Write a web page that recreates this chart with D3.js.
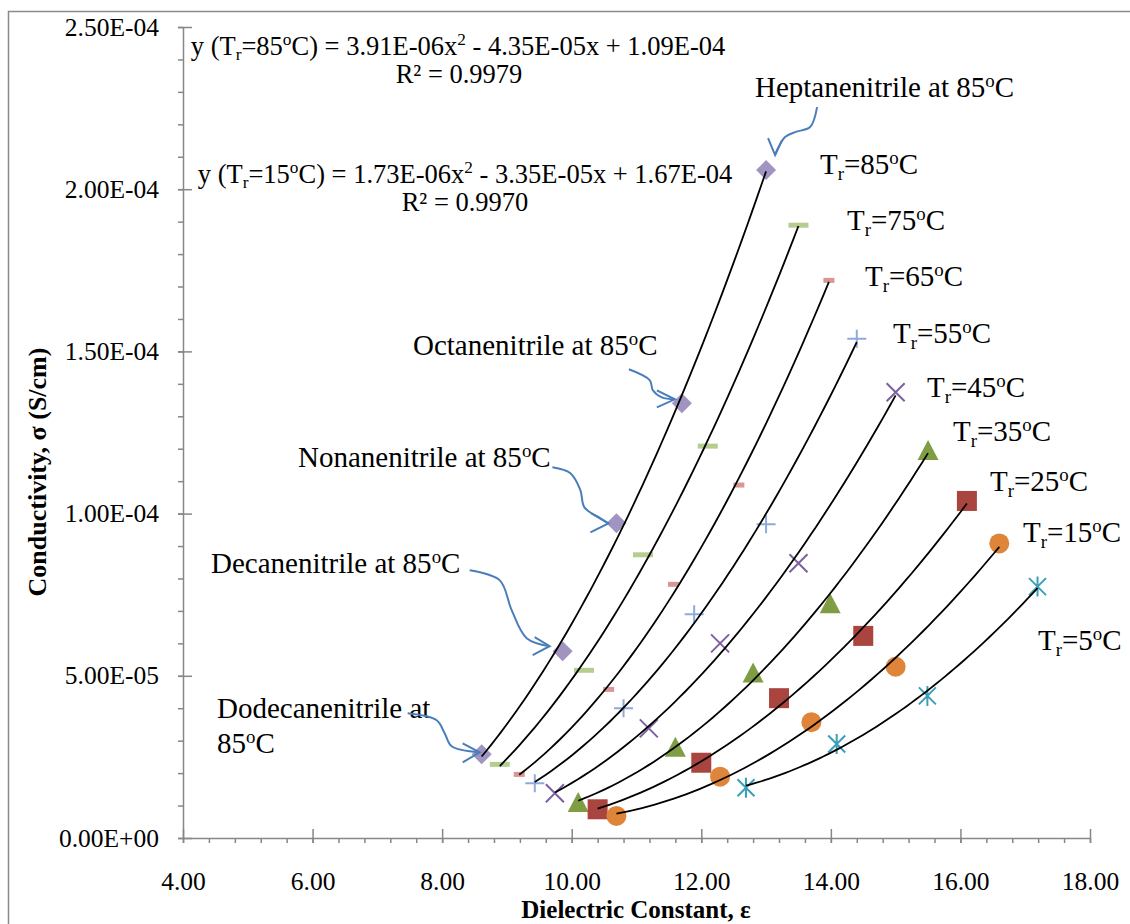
<!DOCTYPE html>
<html>
<head>
<meta charset="utf-8">
<script src="https://cdn.jsdelivr.net/npm/d3@7"></script>
<style>
body { margin: 0; background: #fff; }
svg text { font-family: "Liberation Serif", "Times New Roman", serif; fill: #000; }
</style>
</head>
<body>
<div id="chart"></div>
<script>
// dielectric constant (eps) and conductivity (sig, S/cm) for each reduced temperature
var eps85 = [8.61, 9.86, 10.69, 11.70, 13.00];
var sig85 = [2.58e-5, 5.76e-5, 9.70e-5, 13.40e-5, 20.59e-5];
var eps75 = [8.89, 10.19, 11.10, 12.10, 13.50];
var sig75 = [2.27e-5, 5.17e-5, 8.73e-5, 12.08e-5, 18.89e-5];
var eps65 = [9.19, 10.57, 11.57, 12.58, 13.97];
var sig65 = [1.96e-5, 4.58e-5, 7.82e-5, 10.88e-5, 17.19e-5];
var eps55 = [9.43, 10.80, 11.89, 13.00, 14.40];
var sig55 = [1.69e-5, 4.00e-5, 6.90e-5, 9.67e-5, 15.39e-5];
var eps45 = [9.74, 11.19, 12.29, 13.50, 15.00];
var sig45 = [1.38e-5, 3.38e-5, 6.00e-5, 8.47e-5, 13.74e-5];
var eps35 = [10.10, 11.60, 12.80, 13.99, 15.50];
var sig35 = [1.11e-5, 2.81e-5, 5.10e-5, 7.24e-5, 11.96e-5];
var eps25 = [10.40, 12.00, 13.20, 14.50, 16.10];
var sig25 = [0.885e-5, 2.32e-5, 4.31e-5, 6.23e-5, 10.39e-5];
var eps15 = [10.69, 12.29, 13.70, 15.00, 16.60];
var sig15 = [0.68e-5, 1.89e-5, 3.57e-5, 5.28e-5, 9.08e-5];
var eps5 = [12.69, 14.09, 15.49, 17.19];
var sig5 = [1.55e-5, 2.90e-5, 4.38e-5, 7.75e-5];

var temps = ["85", "75", "65", "55", "45", "35", "25", "15", "5"];

var xTicks = [4, 6, 8, 10, 12, 14, 16, 18];
var xTickLabels = ["4.00", "6.00", "8.00", "10.00", "12.00", "14.00", "16.00", "18.00"];
var yTicks = [0, 5e-5, 1e-4, 1.5e-4, 2e-4, 2.5e-4];
var yTickLabels = ["0.00E+00", "5.00E-05", "1.00E-04", "1.50E-04", "2.00E-04", "2.50E-04"];

var series = [
    {temp: "85", eps: eps85, sig: sig85},
    {temp: "75", eps: eps75, sig: sig75},
    {temp: "65", eps: eps65, sig: sig65},
    {temp: "55", eps: eps55, sig: sig55},
    {temp: "45", eps: eps45, sig: sig45},
    {temp: "35", eps: eps35, sig: sig35},
    {temp: "25", eps: eps25, sig: sig25},
    {temp: "15", eps: eps15, sig: sig15},
    {temp: "5", eps: eps5, sig: sig5}
];

// marker look for each series
var markers = {
    "85": {shape: "diamond", color: "#a194c0"},
    "75": {shape: "dashLong", color: "#b5cd8e"},
    "65": {shape: "dashShort", color: "#d99694"},
    "55": {shape: "plus", color: "#8eaadb"},
    "45": {shape: "cross", color: "#7d60a0"},
    "35": {shape: "triangle", color: "#7f9e44"},
    "25": {shape: "square", color: "#a9443f"},
    "15": {shape: "circle", color: "#de853a"},
    "5": {shape: "star", color: "#3c9fb8"}
};

// label positions for the temperature tags (left, baseline)
var tagPos = {
    "85": [820, 174], "75": [847, 230], "65": [865, 286], "55": [893, 343],
    "45": [927, 397], "35": [953, 441], "25": [990, 491], "15": [1023, 542], "5": [1038, 650]
};

var margin = {top: 27, right: 40, bottom: 86, left: 183},
    width = 1130 - margin.left - margin.right,
    height = 924 - margin.top - margin.bottom;

var svg = d3.select("#chart")
    .append("svg")
    .attr("width", 1130)
    .attr("height", 924);

// outer chart frame
svg.append("rect")
    .attr("x", 8.5).attr("y", 11.5)
    .attr("width", 1200).attr("height", 1000)
    .attr("fill", "none")
    .attr("stroke", "#8a8a8a")
    .attr("stroke-width", 1.5);

var g = svg.append("g")
    .attr("transform", "translate(" + margin.left + "," + margin.top + ")");

var x = d3.scaleLinear().domain([4, 18]).range([0, width]);
var y = d3.scaleLinear().domain([0, 2.5e-4]).range([height, 0]);

var axisColor = "#878787";

// minor ticks first
g.append("g")
    .attr("transform", "translate(0," + height + ")")
    .call(d3.axisBottom(x).tickValues(d3.range(4, 18.01, 0.4)).tickSize(5).tickFormat(""))
    .call(function(a) { a.select(".domain").remove(); });
g.append("g")
    .call(d3.axisLeft(y).tickValues(d3.range(0, 2.5e-4 + 1e-9, 1e-5)).tickSize(5).tickFormat(""))
    .call(function(a) { a.select(".domain").remove(); });

var xAxis = g.append("g")
    .attr("transform", "translate(0," + height + ")")
    .call(d3.axisBottom(x).tickValues(xTicks)
        .tickFormat(function(d, i) { return xTickLabels[i]; })
        .tickSize(5).tickSizeOuter(0).tickPadding(29));
xAxis.selectAll(".tick line").attr("y1", -9);

var yAxis = g.append("g")
    .call(d3.axisLeft(y).tickValues(yTicks)
        .tickFormat(function(d, i) { return yTickLabels[i]; })
        .tickSize(5).tickSizeOuter(0).tickPadding(19));
yAxis.selectAll(".tick line").attr("x1", 9);

g.selectAll(".tick line").attr("stroke", axisColor).attr("stroke-width", 1.5);
g.selectAll(".domain").attr("stroke", axisColor).attr("stroke-width", 1.5);
g.selectAll(".tick text")
    .attr("font-family", "Liberation Serif, Times New Roman, serif")
    .attr("font-size", 25.5)
    .attr("fill", "#000");

// axis titles
svg.append("text")
    .attr("x", 636).attr("y", 918)
    .attr("text-anchor", "middle")
    .attr("font-weight", "bold")
    .attr("font-size", 25)
    .text("Dielectric Constant, ε");
svg.append("text")
    .attr("transform", "translate(46,472) rotate(-90)")
    .attr("text-anchor", "middle")
    .attr("font-weight", "bold")
    .attr("font-size", 26)
    .text("Conductivity, σ (S/cm)");

// text with _{sub} and ^{sup} parts
function richText(parent, str, px, py, size, anchor) {
    var t = parent.append("text")
        .attr("x", px).attr("y", py)
        .attr("font-size", size)
        .attr("text-anchor", anchor || "start");
    var shift = 0;
    str.split(/(_\{[^}]*\}|\^\{[^}]*\})/).forEach(function(part) {
        if (!part) return;
        var target = 0, fs = size, txt = part;
        if (part[0] === "_") { target = size * 0.2; fs = size * 0.65; txt = part.slice(2, -1); }
        if (part[0] === "^") { target = -size * 0.36; fs = size * 0.65; txt = part.slice(2, -1); }
        t.append("tspan")
            .attr("dy", target - shift)
            .attr("font-size", fs)
            .text(txt);
        shift = target;
    });
    return t;
}

// least squares quadratic, like the spreadsheet trendline
function quadFit(xs, ys) {
    var n = xs.length, s1 = 0, s2 = 0, s3 = 0, s4 = 0, t0 = 0, t1 = 0, t2 = 0;
    xs.forEach(function(v, i) {
        s1 += v; s2 += v * v; s3 += v * v * v; s4 += v * v * v * v;
        t0 += ys[i]; t1 += v * ys[i]; t2 += v * v * ys[i];
    });
    var m = [[s4, s3, s2], [s3, s2, s1], [s2, s1, n]], r = [t2, t1, t0];
    function det(a) {
        return a[0][0] * (a[1][1] * a[2][2] - a[1][2] * a[2][1])
             - a[0][1] * (a[1][0] * a[2][2] - a[1][2] * a[2][0])
             + a[0][2] * (a[1][0] * a[2][1] - a[1][1] * a[2][0]);
    }
    var D = det(m);
    return [0, 1, 2].map(function(c) {
        var mc = m.map(function(row, i) { return row.map(function(v, j) { return j === c ? r[i] : v; }); });
        return det(mc) / D;
    });
}

function markerPath(shape) {
    switch (shape) {
        case "diamond": return "M0,-10L10,0L0,10L-10,0Z";
        case "dashLong": return "M-10,-2.5H10V2.5H-10Z";
        case "dashShort": return "M-5.5,-2.5H5.5V2.5H-5.5Z";
        case "plus": return "M-9.5,0H9.5M0,-9V9";
        case "cross": return "M-9,-9L9,9M-9,9L9,-9";
        case "triangle": return "M0,-10L10.5,10H-10.5Z";
        case "square": return "M-10,-10H10V10H-10Z";
        case "circle": return "M-10,0A10,10 0 1,0 10,0A10,10 0 1,0 -10,0Z";
        case "star": return "M-8.5,-8.5L8.5,8.5M-8.5,8.5L8.5,-8.5M0,-10V10";
    }
}
var stroked = {plus: true, cross: true, star: true};

// markers
series.forEach(function(s) {
    var mk = markers[s.temp];
    var pts = s.eps.map(function(e, i) { return {e: e, s: s.sig[i]}; });
    g.append("g").selectAll("path")
        .data(pts)
        .enter()
        .append("path")
        .attr("transform", function(d) { return "translate(" + x(d.e) + "," + y(d.s) + ")"; })
        .attr("d", markerPath(mk.shape))
        .attr("fill", stroked[mk.shape] ? "none" : mk.color)
        .attr("stroke", stroked[mk.shape] ? mk.color : "none")
        .attr("stroke-width", 2);
});

// trendlines on top
var line = d3.line()
    .x(function(d) { return x(d[0]); })
    .y(function(d) { return y(d[1]); });
series.forEach(function(s) {
    var c = quadFit(s.eps, s.sig);
    var lo = d3.min(s.eps), hi = d3.max(s.eps);
    var curve = d3.range(0, 61).map(function(k) {
        var v = lo + (hi - lo) * k / 60;
        return [v, c[0] * v * v + c[1] * v + c[2]];
    });
    g.append("path")
        .attr("d", line(curve))
        .attr("fill", "none")
        .attr("stroke", "#000")
        .attr("stroke-width", 1.8);
});

// temperature tags
temps.forEach(function(t) {
    richText(svg, "T_{r}=" + t + "^{o}C", tagPos[t][0], tagPos[t][1], 29);
});

// trendline equations
richText(svg, "y (T_{r}=85^{o}C) = 3.91E-06x^{2} - 4.35E-05x + 1.09E-04", 458, 55, 26.5, "middle");
richText(svg, "R² = 0.9979", 459, 83, 26.5, "middle");
richText(svg, "y (T_{r}=15^{o}C) = 1.73E-06x^{2} - 3.35E-05x + 1.67E-04", 465, 183, 26.5, "middle");
richText(svg, "R² = 0.9970", 465, 211, 26.5, "middle");

// nitrile call-outs, arrows drawn relative to the 85 C points
var notes = [
    {i: 0, lines: [[217, 718, "Dodecanenitrile at"], [217, 753, "85^{o}C"]],
     arrow: [[-74, -41], [-45, -34], [-37, -21], [-30, -8], [-2, -2]], wings: [[-19, -11], [-19, 8]]},
    {i: 1, lines: [[211, 573, "Decanenitrile at 85^{o}C"]],
     arrow: [[-93, -81], [-63, -71], [-51, -41], [-36, -13], [-13, -5]], wings: [[-28, -14], [-30, 4]]},
    {i: 2, lines: [[298, 467, "Nonanenitrile at 85^{o}C"]],
     arrow: [[-64, -56], [-46, -50], [-36, -33], [-32, -16], [-16, -5], [-8, 0]], wings: [[-25, -10], [-26, 9]]},
    {i: 3, lines: [[413, 355, "Octanenitrile at 85^{o}C"]],
     arrow: [[-53, -34], [-32, -23], [-29, -13], [-20, -6], [-7, -4]], wings: [[-25, -13], [-25, 4]]},
    {i: 4, lines: [[755, 97, "Heptanenitrile at 85^{o}C"]],
     arrow: [[51, -63], [44, -43], [29, -38], [19, -33], [12, -22], [9, -15]], wings: [[2, -32], [16, -30]]}
];
var arrowLine = d3.line().curve(d3.curveCatmullRom.alpha(0.5));
notes.forEach(function(n) {
    n.lines.forEach(function(l) { richText(svg, l[2], l[0], l[1], 29); });
    var cx = margin.left + x(eps85[n.i]), cy = margin.top + y(sig85[n.i]);
    var pts = n.arrow.map(function(p) { return [cx + p[0], cy + p[1]]; });
    var tip = pts[pts.length - 1];
    svg.append("path")
        .attr("d", arrowLine(pts))
        .attr("fill", "none").attr("stroke", "#4a7ebb").attr("stroke-width", 2);
    svg.append("path")
        .attr("d", "M" + (cx + n.wings[0][0]) + "," + (cy + n.wings[0][1]) + "L" + tip[0] + "," + tip[1] +
                   "L" + (cx + n.wings[1][0]) + "," + (cy + n.wings[1][1]))
        .attr("fill", "none").attr("stroke", "#4a7ebb").attr("stroke-width", 2);
});
</script>
</body>
</html>
